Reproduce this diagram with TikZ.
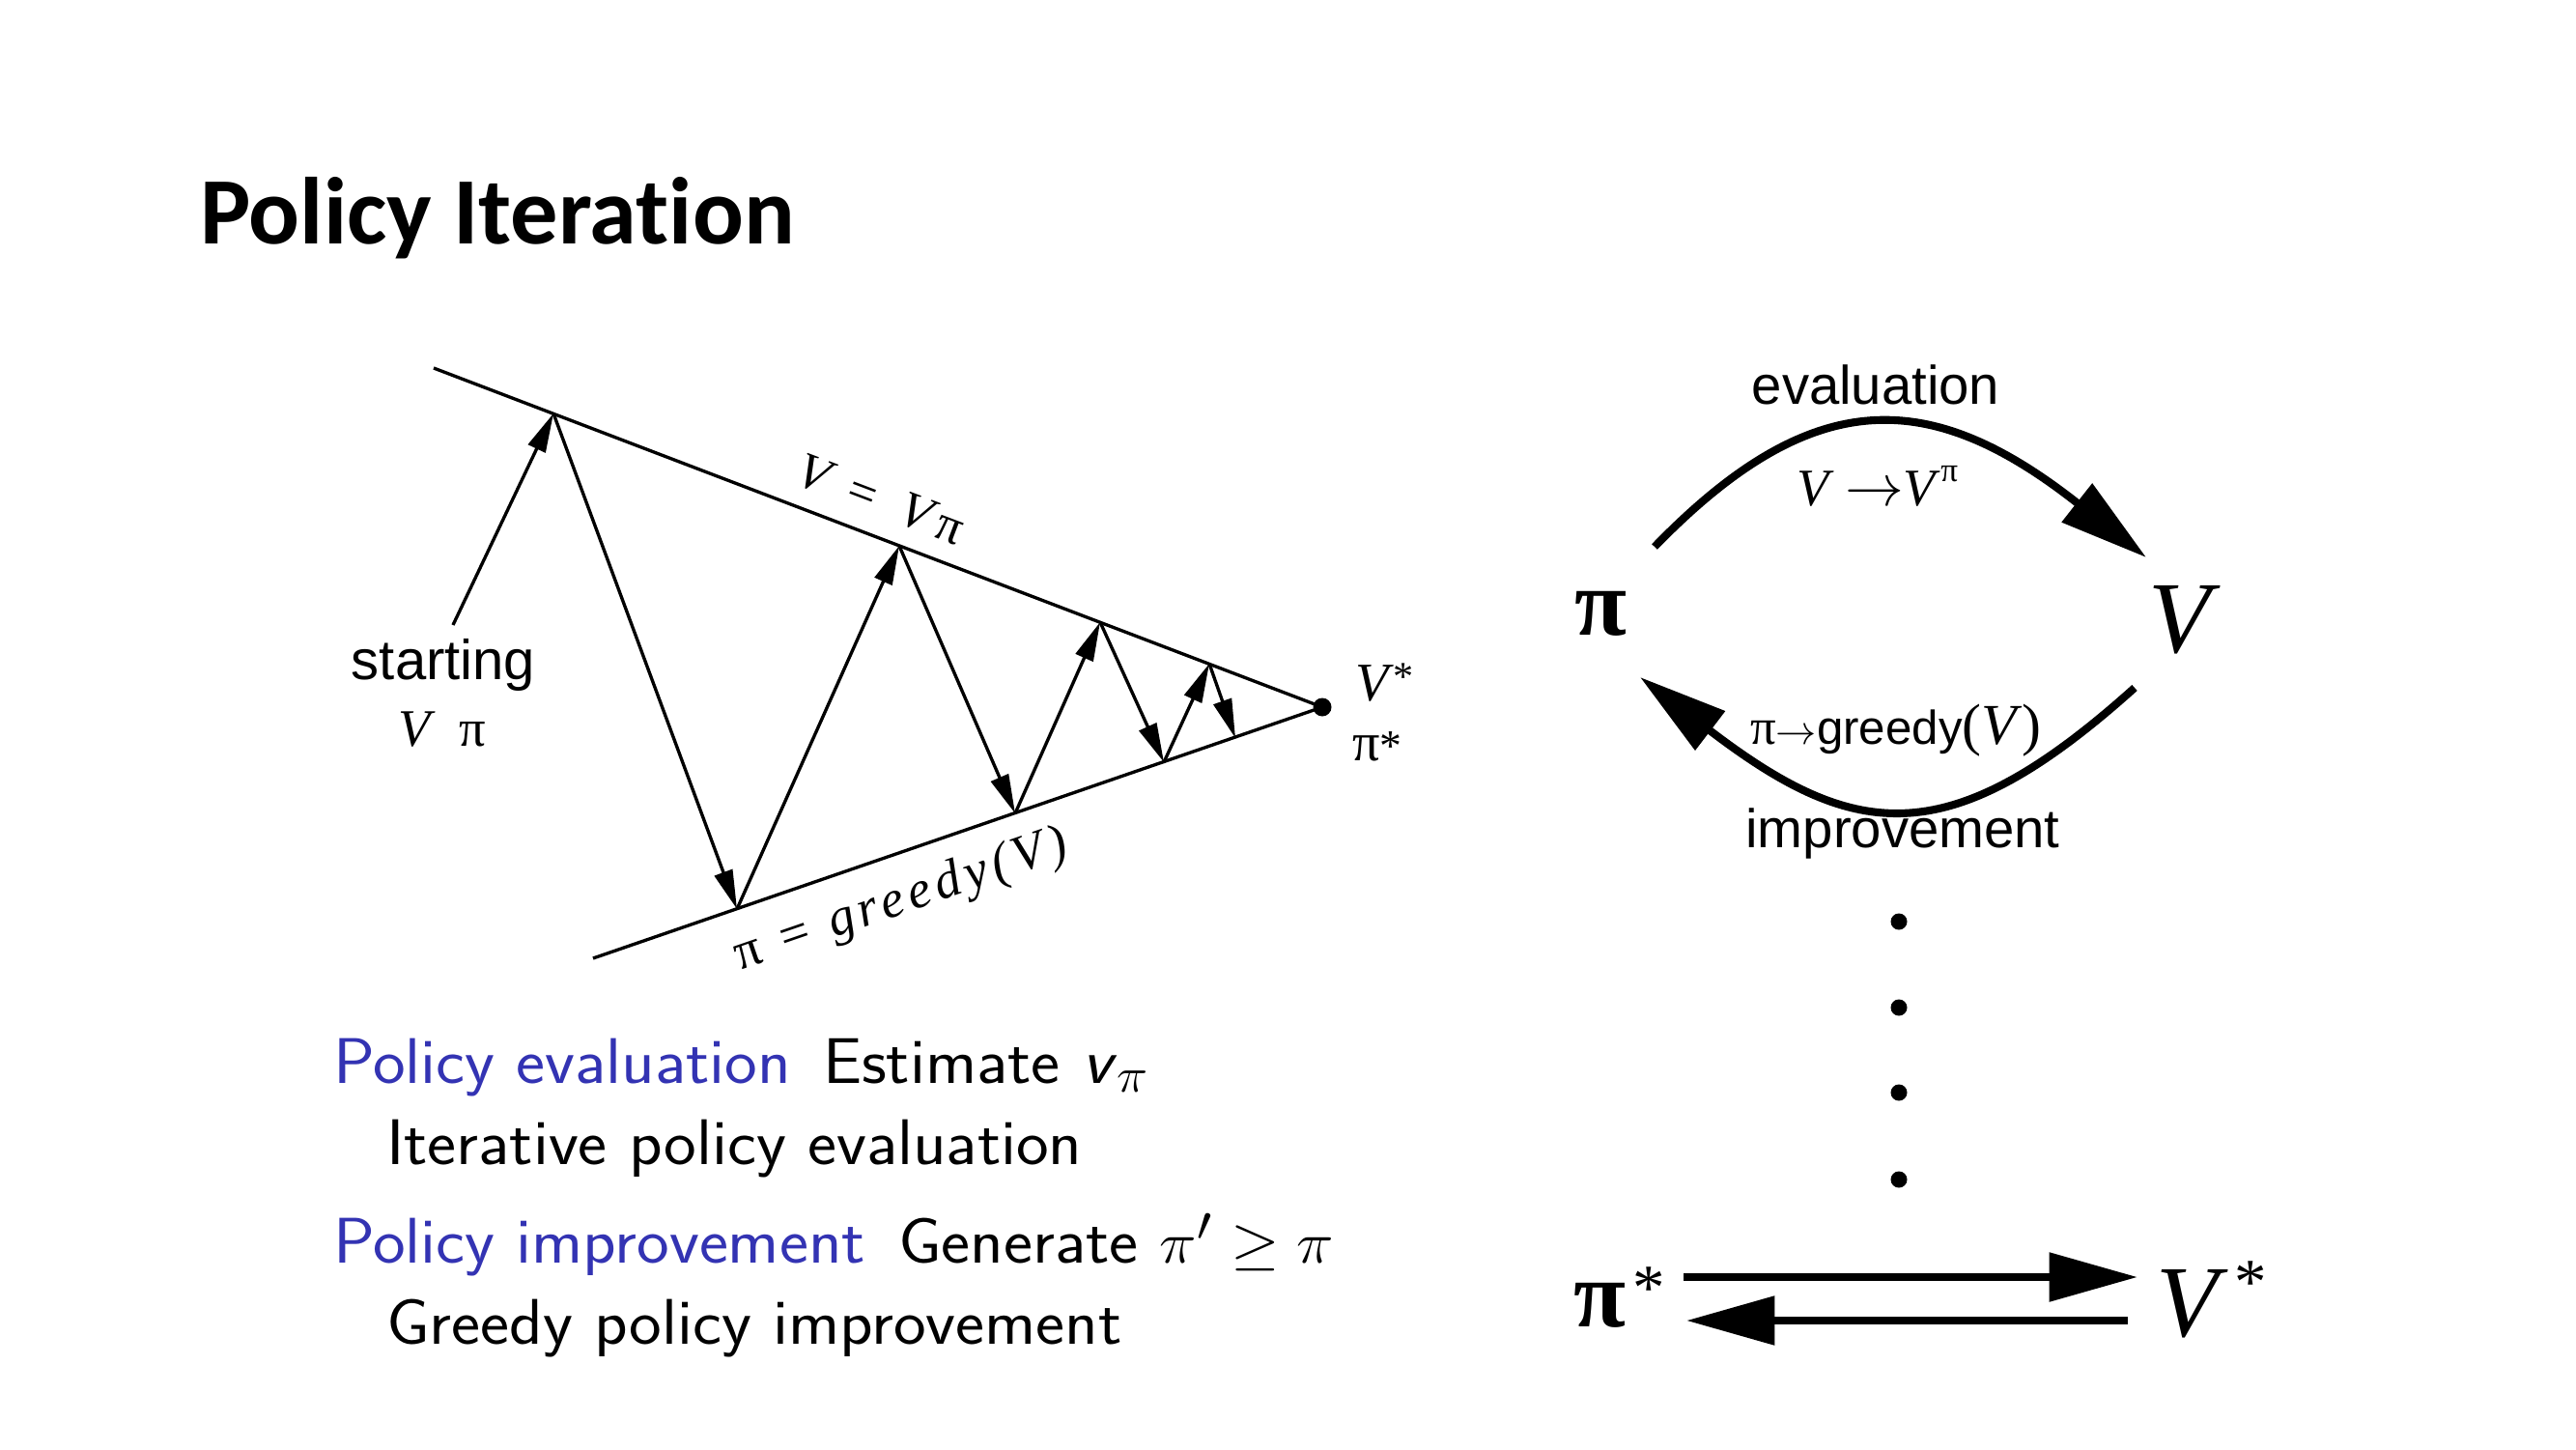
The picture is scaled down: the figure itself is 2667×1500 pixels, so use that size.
\documentclass[tikz,border=0pt]{standalone}
\usepackage{graphicx}
\usepackage{fontspec}
\usetikzlibrary{arrows.meta}
\newfontfamily\arialf{Liberation Sans}
\newfontfamily\timesf{Liberation Serif}
\newfontfamily\titlef[Ligatures=NoCommon]{Carlito}
\newcommand{\myfs}[1]{\fontsize{#1}{#1}\selectfont}
\newcommand{\bodytxt}[1]{\scalebox{1.07}[1]{\sffamily\myfs{19}#1}}
\definecolor{beamerblue}{RGB}{51,51,179}
\begin{document}
\begin{tikzpicture}[x=0.01cm,y=-0.01cm,
  txt/.style={inner sep=0pt, outer sep=0pt},
  guide/.style={line width=0.95pt},
  zig/.style={line width=0.95pt, -{Triangle[length=11.5pt,width=5.5pt]}},
  bigarr/.style={line width=2.3pt, -{Triangle[length=26pt,width=14pt]}},
  dotnode/.style={circle, fill=black, inner sep=0pt, minimum size=0.17cm},
]
\fill[white] (0,0) rectangle (2667,1500);
\useasboundingbox (0,0) rectangle (2667,1500);

% title
\node[txt, anchor=base west] (title) at (207,252) {\titlef\bfseries\myfs{28}Policy Iteration};

% ---------- left diagram ----------
\coordinate (t0) at (449,381);
\coordinate (b0) at (614,992);
\node[dotnode, minimum size=0.19cm] (apex) at (1369,732) {};
\draw[guide] (t0) -- (apex.center);
\draw[guide] (b0) -- (apex.center);

\coordinate (p0) at (469,647);
\coordinate (p1) at (573,428);
\coordinate (p2) at (763,941);
\coordinate (p3) at (931,565);
\coordinate (p4) at (1051,842);
\coordinate (p5) at (1139,644);
\coordinate (p6) at (1205,789);
\coordinate (p7) at (1252,687);
\coordinate (p8) at (1279,764);
\draw[zig] (p0) -- (p1);
\draw[zig] (p1) -- (p2);
\draw[zig] (p2) -- (p3);
\draw[zig] (p3) -- (p4);
\draw[zig] (p4) -- (p5);
\draw[zig] (p5) -- (p6);
\draw[zig] (p6) -- (p7);
\draw[zig] (p7) -- (p8);

\node[txt, anchor=base] (start) at (459,703) {\arialf\myfs{16.5}starting};
\node[txt, anchor=base] (vpi0) at (458,772) {\timesf\myfs{15.5}\textit{V}\hspace{7pt}π};
\node[txt, rotate=-20.8] (vvpi) at (912,517)
  {\timesf\myfs{15}\textit{V}\hspace{5pt}=\hspace{8pt}\textit{V}\hspace{1pt}π};
\node[txt, rotate=19] (greedyline) at (933,933)
  {\timesf\itshape\myfs{15.5}\addfontfeature{LetterSpace=10}{\upshape π} = greedy(V)};
\node[txt, anchor=base west] (vstar) at (1403,725) {\timesf\myfs{16}\textit{V}\raisebox{3pt}{\myfs{12}*}};
\node[txt, anchor=base west] (pistar) at (1400,787) {\timesf\myfs{16}π{\myfs{13}*}};

% ---------- bottom-left text ----------
\node[txt, anchor=base west, text=beamerblue] (pe) at (345,1121) {\bodytxt{Policy evaluation}};
\node[txt, anchor=base west] (est) at (852,1121) {\bodytxt{Estimate \textit{v}$_{\pi}$}};
\node[txt, anchor=base west] (ipe) at (400,1205) {\bodytxt{Iterative policy evaluation}};
\node[txt, anchor=base west, text=beamerblue] (pim) at (345,1307) {\bodytxt{Policy improvement}};
\node[txt, anchor=base west] (gen) at (930,1307) {\bodytxt{Generate $\pi'\geq\pi$}};
\node[txt, anchor=base west] (gpi) at (400,1391) {\bodytxt{Greedy policy improvement}};

% ---------- right diagram ----------
\node[txt, anchor=base] (piR) at (1657,657) {\timesf\bfseries\myfs{28}π};
\node[txt, anchor=base] (VR) at (2257,675) {\timesf\itshape\myfs{30}V};

\node[txt, anchor=base] (evl) at (1942,418) {\arialf\myfs{16}evaluation};
\node[txt, anchor=base] (vvp) at (1944,523)
  {\timesf\myfs{15.5}\textit{V}\hspace{3pt}{\myfs{17}$\rightarrow$}\textit{V}\raisebox{7pt}{\myfs{10}π}};
\coordinate (ea) at (1713,566);
\coordinate (eb) at (2222,577);
\draw[bigarr] (ea) .. controls (1878,396) and (2000,402) .. (eb);

\node[txt, anchor=base] (grd) at (1963,770)
  {{\timesf\myfs{15}π}{\myfs{13}$\rightarrow$}{\arialf\myfs{14}greedy}{\timesf\myfs{17}(\textit{V})}};
\node[txt, anchor=base] (imp) at (1970,877) {\arialf\myfs{16}improvement};
\coordinate (ia) at (2210,712);
\coordinate (ib) at (1698,701);
\draw[bigarr] (ia) .. controls (2017.5,885) and (1919.8,870.5) .. (ib);

\node[dotnode] (d1) at (1966,954) {};
\node[dotnode] (d2) at (1966,1043) {};
\node[dotnode] (d3) at (1966,1131) {};
\node[dotnode] (d4) at (1966,1221) {};

\node[txt, anchor=base west] (pis) at (1629,1373)
  {\timesf\bfseries\myfs{28}π\hspace{2pt}{\mdseries\raisebox{5pt}{\myfs{19}*}}};
\node[txt, anchor=base west] (Vs) at (2232,1383)
  {\timesf\myfs{30}\textit{V}\hspace{2pt}\raisebox{9.5pt}{\myfs{19}*}};
\coordinate (ua1) at (1743,1322);
\coordinate (ua2) at (2213,1322);
\coordinate (la1) at (2203,1367);
\coordinate (la2) at (1746,1367);
\draw[bigarr] (ua1) -- (ua2);
\draw[bigarr] (la1) -- (la2);
\end{tikzpicture}
\end{document}
